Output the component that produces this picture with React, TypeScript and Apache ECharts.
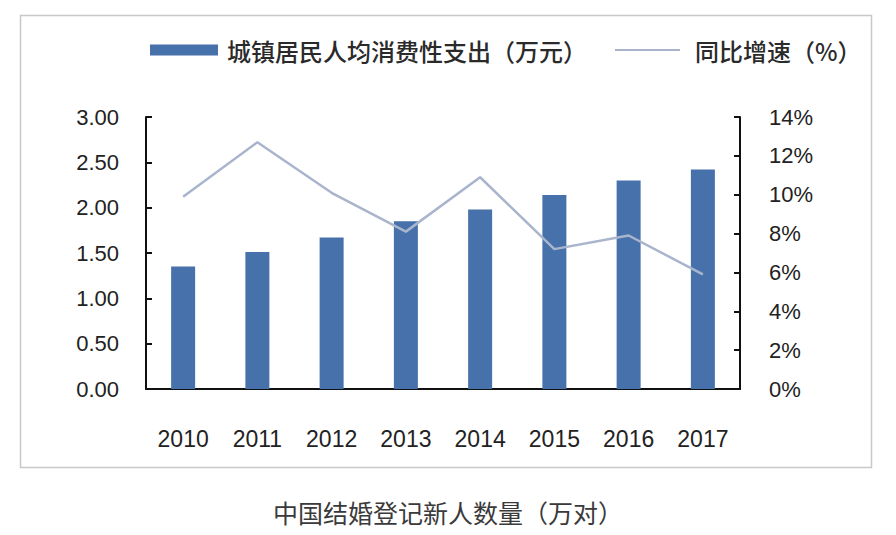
import React, { useEffect, useRef } from "react";
import * as echarts from "echarts";

const years = ["2010", "2011", "2012", "2013", "2014", "2015", "2016", "2017"];
const spending = [1.35, 1.51, 1.67, 1.85, 1.98, 2.14, 2.3, 2.42];
const growth = [9.9, 12.7, 10.1, 8.1, 10.9, 7.2, 7.9, 5.9];
const barName = "城镇居民人均消费性支出（万元）";
const lineName = "同比增速（%）";
const caption = "中国结婚登记新人数量（万对）";

export default function App() {
  const ref = useRef<HTMLDivElement>(null);
  useEffect(() => {
    if (!ref.current) return;
    const chart = echarts.init(ref.current, null, { renderer: "svg" });
    const cjk = "'Noto Sans CJK SC', 'Noto Sans', sans-serif";
    const num = "'Liberation Sans', Arial, sans-serif";
    chart.setOption({
      animation: false,
      backgroundColor: "#ffffff",
      graphic: [
        {
          type: "rect",
          shape: { x: 20.5, y: 15.5, width: 851, height: 452 },
          style: { fill: "none", stroke: "#c8c8c8", lineWidth: 1.5 },
          silent: true,
        },
        {
          type: "text",
          left: "center",
          top: 499,
          style: {
            text: caption,
            fontFamily: cjk,
            fontSize: 25,
            fill: "#3a3a3a",
          },
        },
      ],
      legend: [
        {
          data: [barName],
          icon: "rect",
          left: 145,
          top: 33,
          itemWidth: 68,
          itemHeight: 11,
          textStyle: {
            fontFamily: cjk,
            fontSize: 24,
            fontWeight: 500,
            color: "#2a2a2a",
            padding: [0, 0, 0, 4],
          },
        },
        {
          data: [lineName],
          icon: "rect",
          left: 610,
          top: 33,
          itemWidth: 65,
          itemHeight: 2,
          textStyle: {
            fontFamily: cjk,
            fontSize: 24,
            fontWeight: 500,
            color: "#2a2a2a",
            padding: [0, 0, 0, 10],
          },
        },
      ],
      grid: { left: 146, right: 156, top: 117, bottom: 146 },
      xAxis: {
        type: "category",
        data: years,
        boundaryGap: true,
        axisLine: { lineStyle: { color: "#111111", width: 2 } },
        axisTick: { inside: true, length: 6, lineStyle: { color: "#111111", width: 2 } },
        axisLabel: { margin: 38, fontFamily: num, fontSize: 23, color: "#222222" },
      },
      yAxis: [
        {
          type: "value",
          min: 0,
          max: 3,
          interval: 0.5,
          splitLine: { show: false },
          axisLine: { show: true, lineStyle: { color: "#111111", width: 2 } },
          axisTick: { show: true, inside: true, length: 6, lineStyle: { color: "#111111", width: 2 } },
          axisLabel: {
            margin: 27,
            fontFamily: num,
            fontSize: 22,
            color: "#222222",
            formatter: (v: number) => v.toFixed(2),
          },
        },
        {
          type: "value",
          min: 0,
          max: 14,
          interval: 2,
          position: "right",
          splitLine: { show: false },
          axisLine: { show: true, lineStyle: { color: "#111111", width: 2 } },
          axisTick: { show: true, inside: true, length: 6, lineStyle: { color: "#111111", width: 2 } },
          axisLabel: {
            margin: 29,
            fontFamily: num,
            fontSize: 22,
            color: "#222222",
            formatter: (v: number) => `${v}%`,
          },
        },
      ],
      series: [
        {
          name: barName,
          type: "bar",
          data: spending,
          barWidth: 24,
          itemStyle: { color: "#4671aa" },
        },
        {
          name: lineName,
          type: "line",
          yAxisIndex: 1,
          data: growth,
          symbol: "none",
          lineStyle: { color: "#a9b5cc", width: 2.5 },
          itemStyle: { color: "#aab2cc" },
        },
      ],
    });
    return () => chart.dispose();
  }, []);
  return (
    <div
      ref={ref}
      style={{ position: "fixed", left: 0, top: 0, width: 896, height: 535, background: "#fff" }}
    />
  );
}
